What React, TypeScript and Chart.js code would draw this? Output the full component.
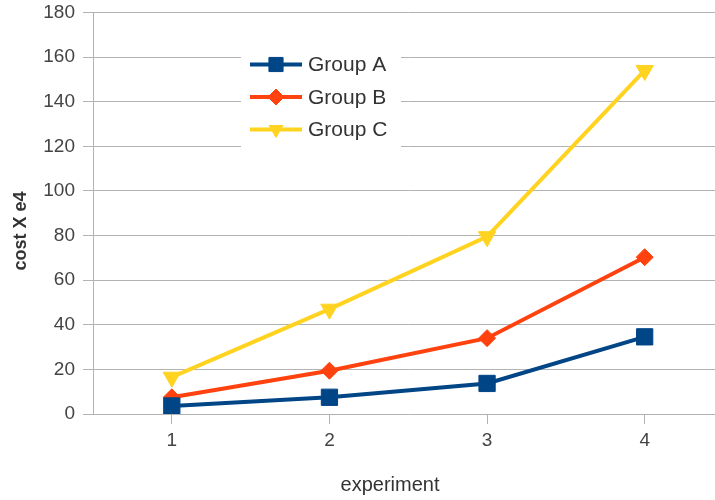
import React, { useEffect, useRef } from 'react';
import { Chart, registerables } from 'chart.js';
import { drawPoint } from 'chart.js/helpers';

Chart.register(...registerables);

const categories = ['1', '2', '3', '4'];
const seriesNames = ['Group A', 'Group B', 'Group C'];
const groupA = [3.6, 7.5, 13.7, 34.6];
const groupB = [7.5, 19.4, 34, 70.3];
const groupC = [16.5, 47, 79.5, 154];
const yMin = 0;
const yMax = 180;
const yStep = 20;
const xTitle = 'experiment';
const yTitle = 'cost X e4';

const colors = ['#004586', '#ff420e', '#ffd320'];
const FONT = '"Liberation Sans", Arial, sans-serif';

const decorPlugin = {
  id: 'decor',
  afterDatasetsDraw(chart: any) {
    const ctx = chart.ctx as CanvasRenderingContext2D;
    ctx.save();
    // legend box
    ctx.fillStyle = '#ffffff';
    ctx.fillRect(241, 45, 160, 105);
    chart.data.datasets.forEach((ds: any, i: number) => {
      const y = 64.5 + i * 32.5;
      ctx.strokeStyle = ds.borderColor;
      ctx.lineWidth = 4;
      ctx.beginPath();
      ctx.moveTo(250, y);
      ctx.lineTo(302, y);
      ctx.stroke();
      ctx.fillStyle = ds.borderColor;
      ctx.lineWidth = 1;
      drawPoint(
        ctx,
        {
          pointStyle: ds.pointStyle,
          rotation: ds.pointRotation || 0,
          radius: ds.pointStyle === 'rect' ? 10 : 8,
          borderWidth: 1,
        } as any,
        276,
        y
      );
      ctx.fillStyle = '#333333';
      ctx.font = `21px ${FONT}`;
      ctx.textBaseline = 'middle';
      ctx.textAlign = 'left';
      ctx.fillText(ds.label, 308, y + 1);
    });
    // axis titles
    ctx.fillStyle = '#333333';
    ctx.textAlign = 'center';
    ctx.textBaseline = 'middle';
    ctx.font = `20px ${FONT}`;
    ctx.fillText(xTitle, 390, 485);
    ctx.translate(21, 231);
    ctx.rotate(-Math.PI / 2);
    ctx.font = `bold 18px ${FONT}`;
    ctx.fillText(yTitle, 0, 0);
    ctx.restore();
  },
};

export default function App() {
  const ref = useRef<HTMLCanvasElement>(null);
  useEffect(() => {
    if (!ref.current) return;
    const mk = (i: number, data: number[], style: string, radius: number, rot: number) => ({
      label: seriesNames[i],
      data,
      borderColor: colors[i],
      backgroundColor: colors[i],
      borderWidth: 4,
      pointStyle: style,
      pointRadius: radius,
      pointHoverRadius: radius,
      pointRotation: rot,
      pointBorderWidth: 1,
      pointBackgroundColor: colors[i],
      pointBorderColor: colors[i],
      tension: 0,
    });
    const chart = new Chart(ref.current, {
      type: 'line',
      data: {
        labels: categories,
        datasets: [
          mk(0, groupA, 'rect', 11.5, 0),
          mk(1, groupB, 'rectRot', 8.5, 0),
          mk(2, groupC, 'triangle', 10, 180),
        ] as any,
      },
      options: {
        animation: false,
        responsive: false,
        devicePixelRatio: 1,
        layout: { padding: { left: 13, top: 12, right: 8, bottom: 0 } },
        plugins: { legend: { display: false }, tooltip: { enabled: false } },
        scales: {
          x: {
            offset: true,
            grid: {
              offset: false,
              drawOnChartArea: false,
              drawTicks: true,
              tickLength: 10,
              color: '#b3b3b3',
            },
            border: { display: false },
            ticks: {
              color: '#444444',
              font: { family: FONT, size: 19 },
              padding: 5,
              maxRotation: 0,
            },
            afterFit: (s: any) => {
              s.height = 86;
              s.paddingLeft = 0;
              s.paddingRight = 0;
            },
          },
          y: {
            min: yMin,
            max: yMax,
            grid: { color: '#b3b3b3', tickLength: 10, lineWidth: 1 },
            border: { display: true, color: '#b3b3b3', width: 1 },
            ticks: {
              stepSize: yStep,
              color: '#444444',
              font: { family: FONT, size: 19 },
              padding: 8,
            },
            afterFit: (s: any) => {
              s.width = 80;
              s.paddingTop = 0;
              s.paddingBottom = 0;
            },
          },
        },
      } as any,
      plugins: [decorPlugin],
    });
    return () => chart.destroy();
  }, []);
  return (
    <div style={{ position: 'absolute', left: 0, top: 0, width: 715, height: 500, overflow: 'hidden', background: '#fff' }}>
      <canvas ref={ref} width={736} height={500} style={{ width: 736, height: 500 }} />
    </div>
  );
}
